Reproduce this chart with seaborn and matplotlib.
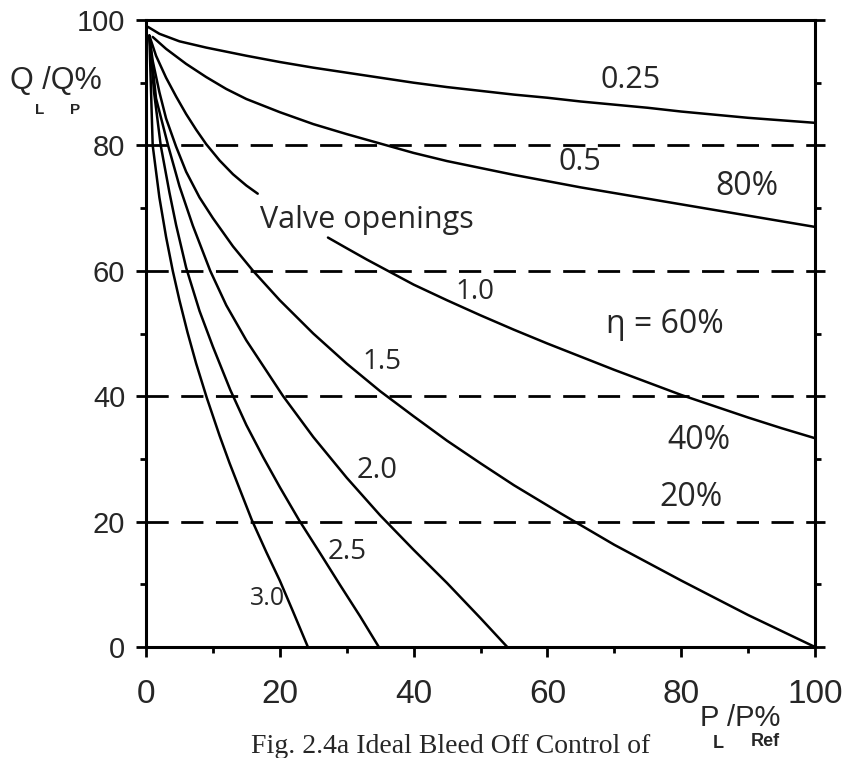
import numpy as np
import pandas as pd
import matplotlib
matplotlib.use("Agg")
import matplotlib.pyplot as plt
from matplotlib.ticker import MultipleLocator
import seaborn as sns

# Load pressure P_L/P_Ref (%) and load flow Q_L/Q_P (%) for each valve opening
p_025 = [0.3, 2, 5, 9, 15, 20, 25, 30, 35, 40, 45, 50, 55, 60, 65, 70, 75, 80, 85, 90, 95, 100]
q_025 = [98.9, 97.8, 96.6, 95.6, 94.3, 93.3, 92.4, 91.6, 90.8, 90.0, 89.3, 88.7, 88.1,
         87.6, 87.0, 86.5, 86.0, 85.4, 84.9, 84.4, 84.0, 83.6]

p_05 = [1, 3, 6, 9, 12, 15, 20, 25, 30, 36, 40, 45, 50, 55, 60, 65, 70, 75, 80, 85, 90, 95, 100]
q_05 = [97.3, 95.4, 93.0, 90.9, 89.0, 87.4, 85.3, 83.4, 81.8, 80.0, 78.8, 77.5, 76.4,
        75.3, 74.3, 73.3, 72.4, 71.5, 70.6, 69.7, 68.8, 67.9, 67.0]

# the 1.0 curve is broken where the "Valve openings" note sits
p_10a = [0.5, 1.5, 3, 4.5, 6, 7.5, 9, 11, 13, 15, 16.7]
q_10a = [97.5, 94.3, 90.8, 87.8, 85.0, 82.5, 80.2, 77.6, 75.4, 73.6, 72.3]
p_10b = [27.2, 30, 33, 36.5, 40, 45, 50, 55, 60, 65, 70, 75, 80, 85, 90, 95, 100]
q_10b = [65.3, 63.6, 61.8, 59.8, 57.8, 55.3, 52.9, 50.6, 48.4, 46.3, 44.2, 42.2, 40.2,
         38.4, 36.6, 34.9, 33.3]

p_15 = [0.5, 1, 2, 3, 4.5, 6, 8, 10, 13, 16, 20, 25, 30, 35, 40, 45, 50, 55, 62, 70, 80, 90, 100]
q_15 = [97.5, 93.5, 88.5, 84.3, 79.8, 75.8, 71.7, 68.4, 63.9, 60.0, 55.3, 50.0, 45.2,
        40.8, 36.8, 32.9, 29.3, 25.8, 21.3, 16.3, 10.6, 5.1, 0]

p_20 = [0.5, 1.5, 3.3, 5, 7, 9.6, 12, 15, 20.5, 25, 30, 35, 40, 45, 50, 54]
q_20 = [97.5, 87.5, 80.0, 73.5, 67.2, 60.0, 54.5, 48.9, 40.0, 33.5, 27.0, 21.0, 15.5,
        10.2, 4.6, 0]

p_25 = [0.5, 1.2, 2.2, 3.5, 4.5, 6, 8, 10, 12.6, 15, 17.5, 20, 22.9, 26, 29, 32, 34.8]
q_25 = [97.5, 88.5, 80.0, 72.5, 67.3, 60.5, 53.6, 47.9, 41.0, 35.4, 30.3, 25.5, 20.2,
        15.0, 9.9, 4.9, 0]

p_30 = [0.5, 1, 2, 3, 4, 5, 6.2, 7.5, 9.1, 11, 12.5, 14, 15.8, 18, 20, 22, 24.2]
q_30 = [97.5, 80.0, 71.7, 65.4, 60.0, 55.3, 50.2, 45.2, 39.7, 33.7, 29.3, 25.2, 20.3,
        15.1, 10.6, 5.6, 0]

efficiency_levels = [20, 40, 60, 80]
tick_values = [0, 20, 40, 60, 80, 100]

curves = [
    ("0.25", "a", p_025, q_025),
    ("0.5", "a", p_05, q_05),
    ("1.0", "a", p_10a, q_10a),
    ("1.0", "b", p_10b, q_10b),
    ("1.5", "a", p_15, q_15),
    ("2.0", "a", p_20, q_20),
    ("2.5", "a", p_25, q_25),
    ("3.0", "a", p_30, q_30),
]
rows = []
for opening, seg, ps, qs in curves:
    for p, q in zip(ps, qs):
        rows.append({"opening": opening, "segment": opening + seg, "P": p, "Q": q})
df = pd.DataFrame(rows)

sns.set_style("ticks")
plt.rcParams["font.family"] = ["Liberation Sans", "DejaVu Sans"]

fig = plt.figure(figsize=(8.5, 7.58), dpi=100)
ax = fig.add_axes([146 / 850, 111 / 758, 669 / 850, 627 / 758])

openings = list(dict.fromkeys(df["opening"]))
sns.lineplot(data=df, x="P", y="Q", hue="opening", units="segment",
             estimator=None, sort=False, palette={o: "black" for o in openings},
             linewidth=1.8, legend=False, ax=ax)

for lvl in efficiency_levels:
    ax.axhline(lvl, color="black", linewidth=2.0, dashes=(8, 4.5), zorder=1)

ax.set_xlim(0, 100)
ax.set_ylim(0, 100)
ax.set_xticks(tick_values)
ax.set_yticks(tick_values)
ax.xaxis.set_minor_locator(MultipleLocator(10))
ax.yaxis.set_minor_locator(MultipleLocator(10))
ax.set_xlabel("")
ax.set_ylabel("")
for s in ax.spines.values():
    s.set_linewidth(2.2)
    s.set_color("black")

ax.tick_params(axis="both", which="major", direction="out", length=7, width=2, color="black")
ax.tick_params(axis="both", which="minor", direction="out", length=4.5, width=2, color="black")
ax.tick_params(axis="y", which="both", right=True, labelright=False)
ax.tick_params(axis="y", which="major", labelsize=21, pad=8)
ax.tick_params(axis="x", which="major", labelsize=24, pad=16)

# curve and efficiency annotations
note_font = ["Open Sans", "DejaVu Sans"]
labels = [
    ("0.25", 72.5, 90.4, 22),
    ("0.5", 64.9, 77.3, 22),
    ("80%", 89.9, 73.5, 23),
    ("1.0", 49.2, 56.6, 20),
    ("1.5", 35.3, 45.5, 20),
    ("2.0", 34.5, 28.2, 21),
    ("2.5", 30.0, 15.1, 20),
    ("3.0", 18.1, 7.7, 18),
    ("40%", 82.7, 32.9, 23),
    ("20%", 81.4, 23.9, 23),
]
for txt, x, y, size in labels:
    ax.text(x, y, txt, ha="center", va="center", fontsize=size, family=note_font)
ax.text(17.1, 66.8, "Valve openings", ha="left", va="baseline", fontsize=22, family=note_font)
ax.text(77.6, 51.4, "η = 60%", ha="center", va="center", fontsize=23, family=note_font)

# axis titles with subscripts
fig.text(10 / 850, 1 - 81 / 758, "Q /Q%", ha="left", va="center", fontsize=22)
fig.text(40 / 850, 1 - 110 / 758, "L", ha="center", va="center", fontsize=11, weight="bold")
fig.text(75 / 850, 1 - 110 / 758, "P", ha="center", va="center", fontsize=11, weight="bold")

fig.text(700 / 850, 1 - 718 / 758, "P /P%", ha="left", va="center", fontsize=21)
fig.text(718 / 850, 1 - 744 / 758, "L", ha="center", va="center", fontsize=13, weight="bold")
fig.text(765 / 850, 1 - 742 / 758, "Ref", ha="center", va="center", fontsize=13, weight="bold")

fig.text(451 / 850, 1 - 753 / 758, "Fig. 2.4a Ideal Bleed Off Control of", ha="center",
         va="baseline", fontsize=20, family=["Liberation Serif", "DejaVu Serif"])

fig.savefig("out.png", dpi=100)
